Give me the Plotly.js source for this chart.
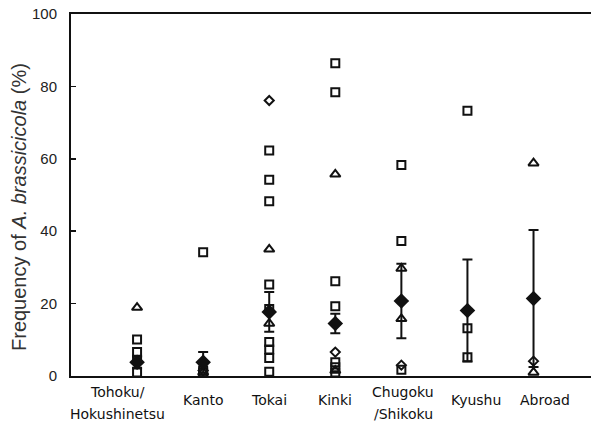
<!DOCTYPE html>
<html>
<head>
<meta charset="utf-8">
<script src="https://cdn.plot.ly/plotly-3.0.1.min.js"></script>
<style>html,body{margin:0;padding:0;background:#fff;}#chart{width:591px;height:425px;}</style>
</head>
<body>
<div id="chart"></div>
<script>
// Categories (regions) and their display labels
const categories = ['Tohoku', 'Kanto', 'Tokai', 'Kinki', 'Chugoku', 'Kyushu', 'Abroad'];
const categoryLabels = ['Tohoku/<br>Hokushinetsu', 'Kanto', 'Tokai', 'Kinki', 'Chugoku<br>/Shikoku', 'Kyushu', 'Abroad'];
const yTitle = 'Frequency of <i>A. brassicicola</i> (%)';

// Open squares (individual samples)
const squareRegion = ['Tohoku','Tohoku','Tohoku','Tohoku',
  'Kanto','Kanto','Kanto',
  'Tokai','Tokai','Tokai','Tokai','Tokai','Tokai','Tokai','Tokai','Tokai',
  'Kinki','Kinki','Kinki','Kinki','Kinki','Kinki','Kinki',
  'Chugoku','Chugoku','Chugoku',
  'Kyushu','Kyushu','Kyushu'];
const squareValue = [10.1, 6.6, 4.5, 1.0,
  34.2, 1.5, 1.0,
  62.3, 54.2, 48.3, 25.3, 18.5, 9.4, 7.3, 5.0, 1.2,
  86.4, 78.4, 26.2, 19.3, 3.8, 2.4, 1.0,
  58.3, 37.3, 1.7,
  73.3, 13.2, 5.2];

// Open triangles
const triangleRegion = ['Tohoku', 'Kanto', 'Tokai', 'Tokai', 'Kinki', 'Kinki', 'Chugoku', 'Chugoku', 'Abroad', 'Abroad'];
const triangleValue = [18.9, 1.0, 35.0, 14.5, 55.7, 1.5, 29.7, 15.8, 58.8, 1.0];

// Open diamonds
const diamondRegion = ['Kanto', 'Tokai', 'Kinki', 'Chugoku', 'Abroad'];
const diamondValue = [1.5, 76.1, 6.6, 3.0, 4.1];

// Means (filled diamonds) and error bars
const meanValue = [3.8, 3.8, 17.7, 14.5, 20.7, 18.1, 21.4];
const meanError = [1.5, 2.8, 5.5, 2.7, 10.3, 14.1, 18.9];

// label horizontal nudges (px), layout only
const labelShift = [-20, 0, 0, 0, 2, 9, 11];

const traces = [
  {x: squareRegion, y: squareValue, type: 'scatter', mode: 'markers', cliponaxis: false,
   marker: {symbol: 'square-open', size: 8, color: '#111', line: {width: 2, color: '#111'}}},
  {x: triangleRegion, y: triangleValue, type: 'scatter', mode: 'markers', cliponaxis: false,
   marker: {symbol: 'triangle-up-open', size: 9, color: '#111', line: {width: 2, color: '#111'}}},
  {x: diamondRegion, y: diamondValue, type: 'scatter', mode: 'markers', cliponaxis: false,
   marker: {symbol: 'diamond-open', size: 7, color: '#111', line: {width: 2, color: '#111'}}},
  {x: categories, y: meanValue, type: 'scatter', mode: 'markers', cliponaxis: false,
   error_y: {type: 'data', array: meanError, visible: true, color: '#111', thickness: 2, width: 5},
   marker: {symbol: 'diamond', size: 12, color: '#111', line: {width: 0}}}
];

const plotLeft = 71, plotRight = 591, plotTop = 14, plotBottom = 376;
const plotH = plotBottom - plotTop, plotW = plotRight - plotLeft;
const annotations = [];
categories.forEach((c, i) => {
  const lines = categoryLabels[i].split('<br>');
  const n = lines.length;
  const center = n > 1 ? 403 : 400;
  lines.forEach((ln, j) => {
    const ypx = center + (j - (n - 1) / 2) * 22;
    annotations.push({
      x: c, xref: 'x', y: -(ypx - plotBottom) / plotH, yref: 'paper',
      yanchor: 'middle', xanchor: 'center', xshift: labelShift[i],
      text: ln, showarrow: false,
      font: {family: 'DejaVu Sans, sans-serif', size: 14, color: '#111'}
    });
  });
});
// y-axis title
annotations.push({
  xref: 'paper', yref: 'paper', x: (19 - plotLeft) / plotW, y: (plotBottom - 207) / plotH,
  xanchor: 'center', yanchor: 'middle', textangle: -90, showarrow: false,
  text: yTitle, font: {family: 'Liberation Sans, Arial, sans-serif', size: 20, color: '#333'}
});

const layout = {
  width: 591, height: 425,
  margin: {l: plotLeft, r: 591 - plotRight, t: plotTop, b: 425 - plotBottom},
  paper_bgcolor: '#fff', plot_bgcolor: '#fff',
  showlegend: false,
  xaxis: {
    type: 'category', categoryorder: 'array', categoryarray: categories,
    range: [-1, 6.87], showgrid: false, zeroline: false,
    showline: true, linecolor: '#111', linewidth: 2, mirror: true,
    showticklabels: false, ticks: ''
  },
  yaxis: {
    range: [0, 100], tickvals: [0, 20, 40, 60, 80, 100],
    showgrid: false, zeroline: false,
    showline: true, linecolor: '#111', linewidth: 2,
    ticks: 'inside', ticklen: 5, tickwidth: 1.5, tickcolor: '#111',
    ticklabelstandoff: 9,
    tickfont: {family: 'Liberation Sans, Arial, sans-serif', size: 15, color: '#222'}
  },
  annotations: annotations
};

Plotly.newPlot('chart', traces, layout, {displayModeBar: false, staticPlot: true});
</script>
</body>
</html>
